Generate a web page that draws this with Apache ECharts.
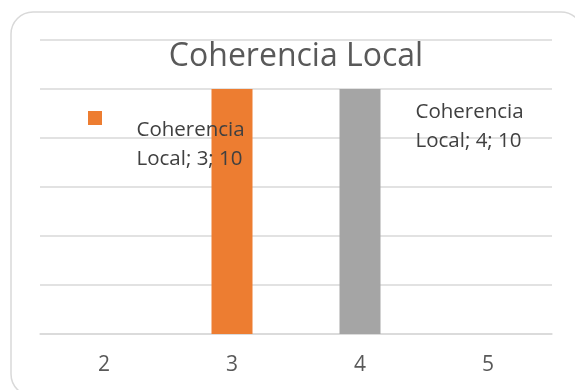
<!DOCTYPE html>
<html>
<head>
<meta charset="utf-8">
<script src="https://cdn.jsdelivr.net/npm/echarts@6/dist/echarts.min.js"></script>
<style>
  html, body { margin: 0; padding: 0; background: #ffffff; }
  #chart { width: 575px; height: 390px; }
</style>
</head>
<body>
<div id="chart"></div>
<script>
// Series and category data
const seriesName = 'Coherencia Local';
const categories = ['2', '3', '4', '5'];
const values = [null, 10, 10, null];
const pointColors = ['#4472C4', '#ED7D31', '#A5A5A5', '#FFC000'];
const yTicks = [0, 2, 4, 6, 8, 10, 12];

// Where each data label sits relative to its bar's top-left corner
const labelOffsets = { '3': [-75, 27], '4': [76, 9] };

const FONT = 'Open Sans';

const chart = echarts.init(document.getElementById('chart'));

const seriesData = values.map((v, i) => {
  const item = { value: v, itemStyle: { color: pointColors[i] } };
  const off = labelOffsets[categories[i]];
  if (off) item.label = { position: off };
  return item;
});

chart.setOption({
  animation: false,
  backgroundColor: '#ffffff',
  graphic: [{
    type: 'rect',
    shape: { x: 11, y: 12, width: 572, height: 384, r: 22 },
    style: { fill: 'none', stroke: '#d9d9d9', lineWidth: 1.5 },
    silent: true,
    z: -1
  }],
  title: {
    text: seriesName,
    left: 291,
    top: 36,
    textAlign: 'center',
    textStyle: { fontFamily: FONT, fontSize: 32, fontWeight: 'normal', color: '#595959' }
  },
  legend: {
    left: 83,
    top: 106,
    itemWidth: 14,
    itemHeight: 14,
    icon: 'rect',
    formatter: () => '',
    data: [{ name: seriesName, itemStyle: { color: pointColors[1] } }],
    selectedMode: false
  },
  grid: { left: 40, right: 23, top: 40, bottom: 56, containLabel: false },
  xAxis: {
    type: 'category',
    data: categories,
    axisLine: { show: true, lineStyle: { color: '#d9d9d9', width: 1.5 } },
    axisTick: { show: false },
    axisLabel: { fontFamily: FONT, fontSize: 21, color: '#595959', margin: 21 }
  },
  yAxis: {
    type: 'value',
    min: yTicks[0],
    max: yTicks[yTicks.length - 1],
    interval: yTicks[1] - yTicks[0],
    axisLine: { show: false },
    axisTick: { show: false },
    axisLabel: { show: false },
    splitLine: { show: true, lineStyle: { color: '#d9d9d9', width: 1.5 } }
  },
  series: [{
    name: seriesName,
    type: 'bar',
    barWidth: 41,
    data: seriesData,
    label: {
      show: true,
      align: 'left',
      verticalAlign: 'top',
      fontFamily: FONT,
      fontSize: 20.5,
      lineHeight: 29,
      color: '#404040',
      formatter: p => p.seriesName.replace(' ', '\n') + '; ' + p.name + '; ' + p.value
    }
  }]
});
</script>
</body>
</html>
